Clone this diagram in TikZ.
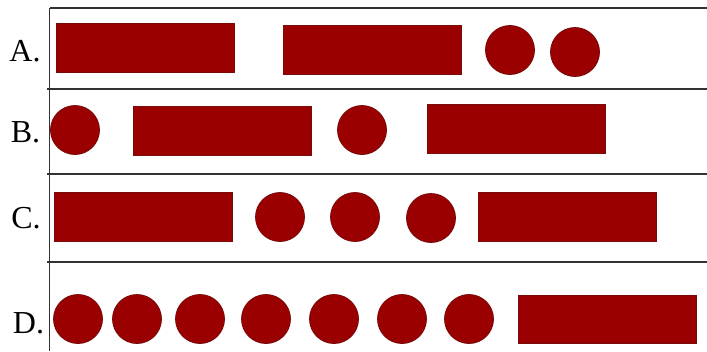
\documentclass[tikz,border=0pt]{standalone}
\usepackage{fontspec}
\setmainfont{Liberation Serif}
\definecolor{barred}{RGB}{155,0,0}
\definecolor{baredge}{RGB}{120,10,10}
\definecolor{rule}{RGB}{50,50,50}
\begin{document}
\begin{tikzpicture}[x=1pt,y=-1pt,
  bar/.style={draw=baredge,line width=0.8pt,fill=barred,inner sep=0pt,minimum width=178pt,minimum height=49pt},
  dot/.style={circle,draw=baredge,line width=0.8pt,fill=barred,inner sep=0pt,minimum size=49pt},
  lab/.style={font=\fontsize{32}{32}\selectfont,inner sep=0pt,anchor=base},
  sep/.style={draw=rule,line width=1.6pt}]
\useasboundingbox (0,0) rectangle (707,351);
\fill[white] (0,0) rectangle (707,351);
% frame lines
\coordinate (t0) at (49.5,8); \coordinate (t1) at (707,8);
\coordinate (l1a) at (47,89); \coordinate (l1b) at (707,89);
\coordinate (l2a) at (47,174); \coordinate (l2b) at (707,174);
\coordinate (l3a) at (47,262); \coordinate (l3b) at (707,262);
\coordinate (vb) at (49.5,351);
\draw[sep] (t0) -- (t1);
\draw[sep] (l1a) -- (l1b);
\draw[sep] (l2a) -- (l2b);
\draw[sep] (l3a) -- (l3b);
\draw[sep] (t0) -- (vb);
% labels
\node[lab] (la) at (25,61) {A.};
\node[lab] (lb) at (25.5,142) {B.};
\node[lab] (lc) at (26,228.5) {C.};
\node[lab] (ld) at (28.5,333) {D.};
% row A
\node[bar] (a1) at (145,47.5) {};
\node[bar] (a2) at (372,49.5) {};
\node[dot] (a3) at (510,50) {};
\node[dot] (a4) at (575,52) {};
% row B
\node[dot] (b1) at (75,130) {};
\node[bar] (b2) at (222.5,130.5) {};
\node[dot] (b3) at (362,130) {};
\node[bar] (b4) at (516.5,128.5) {};
% row C
\node[bar] (c1) at (143,216.5) {};
\node[dot] (c2) at (280,217) {};
\node[dot] (c3) at (355,217) {};
\node[dot] (c4) at (431,218) {};
\node[bar] (c5) at (567.5,216.5) {};
% row D
\node[dot] (d1) at (78,319) {};
\node[dot] (d2) at (137,319) {};
\node[dot] (d3) at (200,319) {};
\node[dot] (d4) at (266,319) {};
\node[dot] (d5) at (334,319) {};
\node[dot] (d6) at (402,319) {};
\node[dot] (d7) at (469,319) {};
\node[bar,minimum height=48pt] (d8) at (607,319) {};
\end{tikzpicture}
\end{document}
